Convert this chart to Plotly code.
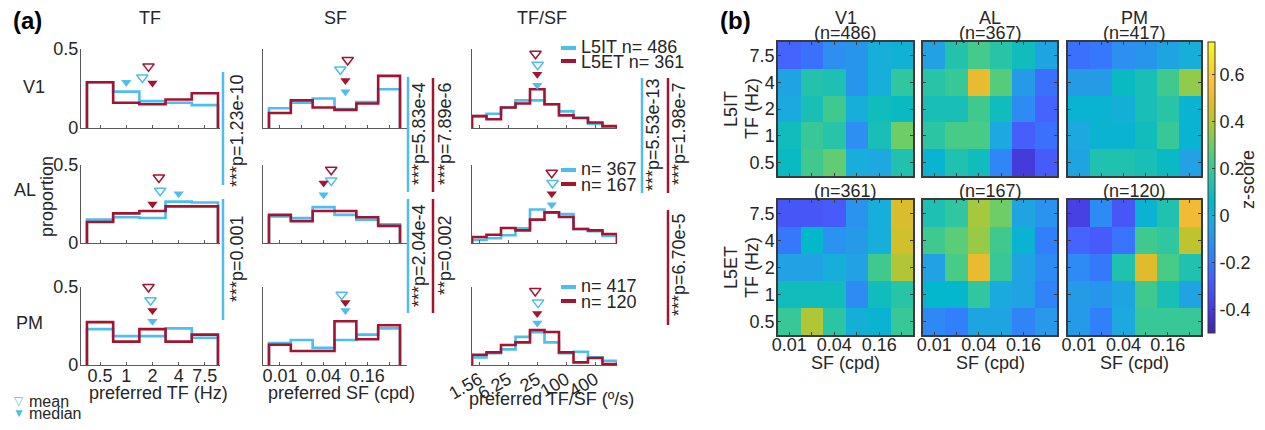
import numpy as np
import plotly.graph_objects as go

# page is shown with the browser's default 8px body margin: size the figure to fit the window
W, H = 1265, 430
OFF = 8
FW, FH = W - 2 * OFF, H - 2 * OFF
FONT = 'Liberation Sans, Arial, Helvetica, sans-serif'
BLUE = '#4DBEEE'
RED = '#A2142F'
AX = '#5a5a5a'
TXT = '#262626'
FS = 18

# ---------------- categories / ticks ----------------
areas = ['V1', 'AL', 'PM']
tf_bins = [0.5, 1, 2, 4, 8]
tf_ticklabels = ['0.5', '1', '2', '4', '7.5']
sf_bins = [0.01, 0.02, 0.04, 0.08, 0.16, 0.32]
sf_tickvals = [0.01, 0.04, 0.16]
sf_ticklabels = ['0.01', '0.04', '0.16']
sp_bins = [1.5625, 3.125, 6.25, 12.5, 25, 50, 100, 200, 400, 800]
sp_tickvals = [1.5625, 6.25, 25, 100, 400]
sp_ticklabels = ['1.56', '6.25', '25', '100', '400']
it_n = [486, 367, 417]
et_n = [361, 167, 120]

# ---------------- histogram proportions ----------------
v1_tf_it = [0.29, 0.23, 0.17, 0.16, 0.145]
v1_tf_et = [0.29, 0.16, 0.15, 0.18, 0.22]
v1_sf_it = [0.125, 0.16, 0.187, 0.12, 0.165, 0.245]
v1_sf_et = [0.095, 0.175, 0.13, 0.115, 0.155, 0.33]
v1_sp_it = [0.075, 0.09, 0.13, 0.175, 0.175, 0.15, 0.105, 0.065, 0.025, 0.01]
v1_sp_et = [0.075, 0.055, 0.13, 0.155, 0.245, 0.15, 0.08, 0.063, 0.035, 0.012]

al_tf_it = [0.15, 0.165, 0.16, 0.265, 0.26]
al_tf_et = [0.135, 0.19, 0.205, 0.235, 0.235]
al_sf_it = [0.17, 0.16, 0.23, 0.18, 0.15, 0.12]
al_sf_et = [0.18, 0.14, 0.205, 0.205, 0.165, 0.11]
al_sp_it = [0.02, 0.03, 0.05, 0.095, 0.215, 0.195, 0.185, 0.09, 0.075, 0.045]
al_sp_et = [0.038, 0.053, 0.096, 0.081, 0.15, 0.196, 0.167, 0.09, 0.081, 0.058]

pm_tf_it = [0.23, 0.185, 0.185, 0.235, 0.175]
pm_tf_et = [0.275, 0.15, 0.23, 0.15, 0.195]
pm_sf_it = [0.14, 0.16, 0.11, 0.16, 0.195, 0.235]
pm_sf_et = [0.13, 0.09, 0.09, 0.28, 0.165, 0.255]
pm_sp_it = [0.049, 0.075, 0.1, 0.18, 0.21, 0.145, 0.075, 0.085, 0.049, 0.027]
pm_sp_et = [0.066, 0.081, 0.128, 0.145, 0.224, 0.212, 0.081, 0.017, 0.045, 0.006]

# ---------------- mean / median  ([TF, SF, TF/SF]) ----------------
v1_it_mean = [1.53, 0.068, 25.5]
v1_it_median = [1, 0.08, 25]
v1_et_mean = [1.8, 0.086, 23]
v1_et_median = [2, 0.08, 25]
al_it_mean = [2.45, 0.051, 52]
al_it_median = [4, 0.04, 50]
al_et_mean = [2.37, 0.051, 50]
al_et_median = [2, 0.04, 50]
pm_it_mean = [1.9, 0.071, 26]
pm_it_median = [2, 0.08, 25]
pm_et_mean = [1.8, 0.083, 22.7]
pm_et_median = [2, 0.08, 25]

# marker heights (proportion) per column: [it_mean, it_median, et_mean, et_median]
v1_levels = [[0.32, 0.29, 0.39, 0.285], [0.37, 0.23, 0.43, 0.30], [0.40, 0.27, 0.47, 0.34]]
al_levels = [[0.335, 0.316, 0.42, 0.25], [0.40, 0.31, 0.47, 0.385], [0.385, 0.245, 0.45, 0.316]]
pm_levels = [[0.415, 0.28, 0.50, 0.35], [0.45, 0.35, 0.52, 0.40], [0.40, 0.27, 0.475, 0.33]]

# p-values
pvals_tf_it = ['***p=1.23e-10', '***p=0.001']
pvals_sf_it = ['***p=5.83e-4', '***p=2.04e-4']
pvals_sf_et = ['***p=7.89e-6', '**p=0.002']
pvals_sp_it = ['***p=5.53e-13']
pvals_sp_et = ['***p=1.98e-7', '***p=6.70e-5']

# ---------------- heatmaps (rows top->bottom: TF 7.5..0.5; cols SF 0.01..0.32) ----------------
hm_sf_labels = ['0.01', '', '0.04', '', '0.16', '']
hm_tf_labels = ['7.5', '4', '2', '1', '0.5']
v1_it_z = [[-0.25, -0.22, -0.12, -0.10, 0.00, 0.02],
           [-0.05, 0.15, 0.13, -0.10, 0.00, 0.18],
           [-0.02, 0.12, 0.22, 0.00, 0.10, 0.08],
           [0.10, 0.20, 0.16, -0.12, 0.12, 0.30],
           [0.08, 0.22, 0.28, 0.00, -0.03, 0.14]]
al_it_z = [[-0.06, 0.15, 0.23, 0.16, 0.10, -0.04],
           [0.16, 0.20, 0.50, 0.26, -0.08, -0.22],
           [0.12, 0.12, 0.22, 0.10, -0.13, -0.25],
           [0.17, 0.24, 0.24, -0.03, -0.27, -0.22],
           [0.03, 0.14, 0.10, -0.15, -0.40, -0.28]]
pm_it_z = [[-0.22, -0.20, -0.12, -0.10, -0.04, 0.00],
           [-0.08, -0.08, 0.08, 0.12, 0.22, 0.35],
           [0.03, 0.03, 0.01, 0.12, 0.16, 0.03],
           [-0.03, 0.03, 0.03, 0.10, 0.20, 0.03],
           [-0.04, 0.14, 0.14, 0.12, 0.08, -0.06]]
v1_et_z = [[-0.30, -0.30, -0.28, -0.11, 0.00, 0.47],
           [-0.20, 0.06, -0.11, -0.08, 0.00, 0.45],
           [-0.06, -0.06, 0.00, -0.06, 0.22, 0.40],
           [0.10, 0.10, 0.10, -0.13, 0.10, 0.16],
           [0.20, 0.40, 0.17, 0.01, 0.03, 0.20]]
al_et_z = [[0.13, 0.18, 0.38, 0.30, -0.04, -0.11],
           [0.22, 0.27, 0.36, 0.22, 0.03, -0.18],
           [-0.06, 0.24, 0.50, 0.20, -0.05, -0.13],
           [0.05, 0.05, 0.18, -0.02, -0.05, -0.16],
           [-0.14, -0.18, -0.04, -0.04, -0.16, -0.09]]
pm_et_z = [[-0.38, -0.13, -0.30, 0.03, 0.14, 0.52],
           [-0.25, -0.28, -0.21, 0.22, 0.18, 0.42],
           [-0.13, -0.20, 0.14, 0.48, 0.24, 0.14],
           [-0.08, -0.10, -0.04, 0.22, 0.12, -0.05],
           [-0.08, -0.18, -0.03, 0.20, 0.20, 0.20]]
cbar_vals = [-0.4, -0.2, 0, 0.2, 0.4, 0.6]

parula = [[0.2422, 0.1504, 0.6603], [0.2647, 0.1978, 0.7952], [0.2783, 0.2559, 0.8991],
          [0.2810, 0.3228, 0.9579], [0.2699, 0.3892, 0.9906], [0.1963, 0.4847, 0.9892],
          [0.1764, 0.5499, 0.9520], [0.1380, 0.6276, 0.8973], [0.0952, 0.6798, 0.8598],
          [0.0036, 0.7203, 0.7917], [0.0964, 0.7500, 0.7120], [0.1938, 0.7758, 0.6251],
          [0.2906, 0.7973, 0.5188], [0.4456, 0.8024, 0.3909], [0.6174, 0.7876, 0.2612],
          [0.7738, 0.7598, 0.1646], [0.9035, 0.7330, 0.1774], [0.9956, 0.7434, 0.2371],
          [0.9892, 0.8136, 0.1885], [0.9610, 0.8890, 0.1537], [0.9769, 0.9839, 0.0805]]
n = len(parula)
colorscale = [[i / (n - 1), 'rgb(%d,%d,%d)' % tuple(int(round(c * 255)) for c in p)]
              for i, p in enumerate(parula)]

# ---------------- helpers (screen px -> paper) ----------------
def px(x):
    return (x - OFF) / FW

def py(y):
    return 1 - (y - OFF) / FH

def step_xy(centers, heights):
    c = np.array(centers, float)
    edges = np.concatenate([[c[0] / np.sqrt(2)], np.sqrt(c[:-1] * c[1:]), [c[-1] * np.sqrt(2)]])
    xs, ys = [edges[0]], [0]
    for i, h in enumerate(heights):
        xs += [edges[i], edges[i + 1]]
        ys += [h, h]
    xs.append(edges[-1])
    ys.append(0)
    return xs, ys

fig = go.Figure()
layout = dict(width=FW, height=FH, margin=dict(l=0, r=0, t=0, b=0, autoexpand=False),
              paper_bgcolor='white', plot_bgcolor='white', showlegend=False,
              font=dict(family=FONT, size=FS, color=TXT))

hist_x_dom = [(81, 220), (263, 407), (472, 617)]
hist_y_dom = [(49, 128), (165, 243), (287, 365)]
hist_x_rng = [[-0.520, 1.077], [-2.233, -0.248], [0.043, 3.054]]

hist_data = {
    'V1': [(v1_tf_it, v1_tf_et), (v1_sf_it, v1_sf_et), (v1_sp_it, v1_sp_et)],
    'AL': [(al_tf_it, al_tf_et), (al_sf_it, al_sf_et), (al_sp_it, al_sp_et)],
    'PM': [(pm_tf_it, pm_tf_et), (pm_sf_it, pm_sf_et), (pm_sp_it, pm_sp_et)],
}
marks = {
    'V1': (v1_it_mean, v1_it_median, v1_et_mean, v1_et_median, v1_levels),
    'AL': (al_it_mean, al_it_median, al_et_mean, al_et_median, al_levels),
    'PM': (pm_it_mean, pm_it_median, pm_et_mean, pm_et_median, pm_levels),
}
col_bins = [tf_bins, sf_bins, sp_bins]

for r, area in enumerate(areas):
    for c in range(3):
        k = r * 3 + c + 1
        xa = 'x' if k == 1 else 'x%d' % k
        ya = 'y' if k == 1 else 'y%d' % k
        it_h, et_h = hist_data[area][c]
        for h, col in ((it_h, BLUE), (et_h, RED)):
            xs, ys = step_xy(col_bins[c], h)
            fig.add_trace(go.Scatter(x=xs, y=ys, mode='lines', xaxis=xa, yaxis=ya,
                                     line=dict(color=col, width=2.6), hoverinfo='skip'))
        imean, imed, emean, emed, lev = marks[area]
        L = lev[c]
        for val, lv, col, sym, sz in ((imean[c], L[0], BLUE, 'triangle-down-open', 10),
                                      (emean[c], L[2], RED, 'triangle-down-open', 10),
                                      (imed[c], L[1], BLUE, 'triangle-down', 9),
                                      (emed[c], L[3], RED, 'triangle-down', 9)):
            fig.add_trace(go.Scatter(x=[val], y=[lv], mode='markers', xaxis=xa, yaxis=ya,
                                     cliponaxis=False,
                                     marker=dict(symbol=sym, size=sz, color=col,
                                                 line=dict(color=col, width=1.5 if 'open' in sym else 0))))
        bottom = (r == 2)
        if c == 0:
            tv, tt = tf_bins, tf_ticklabels
        elif c == 1:
            tv = sf_bins
            tt = [sf_ticklabels[sf_tickvals.index(v)] if v in sf_tickvals else '' for v in sf_bins]
        else:
            tv, tt = sp_tickvals, sp_ticklabels
        xkey = 'xaxis' if k == 1 else 'xaxis%d' % k
        ykey = 'yaxis' if k == 1 else 'yaxis%d' % k
        layout[xkey] = dict(domain=[px(hist_x_dom[c][0]), px(hist_x_dom[c][1])], anchor=ya,
                            type='log', range=hist_x_rng[c], showgrid=False, zeroline=False,
                            showline=True, linecolor=AX, linewidth=1.2,
                            ticks='inside', ticklen=3, tickcolor=AX,
                            tickvals=tv, ticktext=tt, showticklabels=bottom,
                            tickangle=(-30 if c == 2 else 0),
                            ticklabelstandoff=(-4 if c == 2 else -6),
                            tickfont=dict(size=FS, color=TXT))
        layout[ykey] = dict(domain=[py(hist_y_dom[r][1]), py(hist_y_dom[r][0])], anchor=xa,
                            range=[0, 0.5], showgrid=False, zeroline=False,
                            showline=True, linecolor=AX, linewidth=1.2,
                            ticks='inside', ticklen=4, tickcolor=AX,
                            tickvals=[0, 0.5], ticktext=['0', '0.5'], ticklabelstandoff=-2,
                            showticklabels=(c == 0), tickfont=dict(size=FS, color=TXT))

# ---------------- heatmaps ----------------
hm_x_dom = [(778, 913), (923, 1057), (1068, 1201)]
hm_y_dom = [(42, 176), (200, 335)]
hm_z = [[v1_it_z, al_it_z, pm_it_z], [v1_et_z, al_et_z, pm_et_z]]
for r in range(2):
    for c in range(3):
        k = 10 + r * 3 + c
        xa, ya = 'x%d' % k, 'y%d' % k
        fig.add_trace(go.Heatmap(z=hm_z[r][c], x=list(range(6)), y=list(range(5)),
                                 xaxis=xa, yaxis=ya, coloraxis='coloraxis', hoverinfo='skip'))
        layout['xaxis%d' % k] = dict(domain=[px(hm_x_dom[c][0]), px(hm_x_dom[c][1])], anchor=ya,
                                     range=[-0.5, 5.5], showgrid=False, zeroline=False,
                                     showline=True, linecolor='#3a3a3a', linewidth=1.5, mirror='ticks',
                                     ticks='inside', ticklen=3, tickcolor='#3a3a3a',
                                     tickvals=list(range(6)), ticktext=hm_sf_labels, ticklabelstandoff=-7,
                                     showticklabels=(r == 1), tickfont=dict(size=FS, color=TXT))
        layout['yaxis%d' % k] = dict(domain=[py(hm_y_dom[r][1]), py(hm_y_dom[r][0])], anchor=xa,
                                     range=[4.5, -0.5], showgrid=False, zeroline=False,
                                     showline=True, linecolor='#3a3a3a', linewidth=1.5, mirror='ticks',
                                     ticks='inside', ticklen=3, tickcolor='#3a3a3a',
                                     tickvals=list(range(5)), ticktext=hm_tf_labels, ticklabelstandoff=-2,
                                     showticklabels=(c == 0), tickfont=dict(size=FS, color=TXT))

layout['coloraxis'] = dict(colorscale=colorscale, cmin=-0.5, cmax=0.74,
                           colorbar=dict(x=px(1208), xanchor='left', y=py((42 + 333) / 2),
                                         yanchor='middle', len=(333 - 42) / FH, lenmode='fraction',
                                         xpad=0, ypad=0,
                                         thickness=7, thicknessmode='pixels',
                                         outlinewidth=1, outlinecolor='#3a3a3a',
                                         tickvals=cbar_vals, ticktext=['-0.4', '-0.2', '0', '0.2', '0.4', '0.6'],
                                         ticks='inside', ticklen=3, tickcolor='#3a3a3a',
                                         tickfont=dict(size=FS, color=TXT)))

# ---------------- annotations ----------------
ann = []

def A(x, y, text, size=FS, color=TXT, angle=0, xanchor='center', bold=False):
    ann.append(dict(x=px(x), y=py(y), xref='paper', yref='paper', text=('<b>%s</b>' % text if bold else text),
                    showarrow=False, textangle=angle, xanchor=xanchor, yanchor='middle',
                    font=dict(size=size, color=color, family=FONT)))

A(27, 20, '(a)', size=24, color='black', bold=True)
A(735, 20, '(b)', size=24, color='black', bold=True)
A(150, 18, 'TF')
A(335, 18, 'SF')
A(542, 18, 'TF/SF')
A(34, 87, 'V1')
A(25, 190, 'AL')
A(29, 323, 'PM')
A(47, 197, 'proportion', angle=-90)
A(158, 393, 'preferred TF (Hz)')
A(342, 393, 'preferred SF (cpd)')
A(551, 399, 'preferred TF/SF (º/s)')
A(19, 401, '▽', size=12, color=BLUE)
A(27, 401, 'mean', size=16, xanchor='left')
A(19, 413, '▼', size=12, color=BLUE)
A(27, 413, 'median', size=16, xanchor='left')
A(1248, 180, 'z-score', angle=-90)

shapes = []

def seg(x0, y0, x1, y1, color, w=4):
    shapes.append(dict(type='line', xref='paper', yref='paper', x0=px(x0), y0=py(y0), x1=px(x1),
                       y1=py(y1), line=dict(color=color, width=w)))

# legends in TF/SF column
leg_y = [(47, 62), (169, 185), (286, 302)]
for r in range(3):
    yb, yr = leg_y[r]
    seg(561, yb + 1, 576, yb + 1, BLUE)
    seg(561, yr - 1, 576, yr - 1, RED)
    pre_b = 'L5IT ' if r == 0 else ''
    pre_r = 'L5ET ' if r == 0 else ''
    A(579, yb, '%sn= %d' % (pre_b, it_n[r]), xanchor='left')
    A(579, yr, '%sn= %d' % (pre_r, et_n[r]), xanchor='left')

# p-value bars
seg(223, 72, 223, 185, BLUE, 2.5)
A(237, 131, pvals_tf_it[0], angle=-90)
seg(223, 199, 223, 320, BLUE, 2.5)
A(237, 259, pvals_tf_it[1], angle=-90)
seg(408, 77, 408, 192, BLUE, 2.5)
A(419, 133, pvals_sf_it[0], angle=-90)
seg(433, 78, 433, 192, RED, 2.5)
A(445, 134, pvals_sf_et[0], angle=-90)
seg(408, 199, 408, 313, BLUE, 2.5)
A(419, 255, pvals_sf_it[1], angle=-90)
seg(433, 199, 433, 313, RED, 2.5)
A(445, 255, pvals_sf_et[1], angle=-90)
seg(642, 78, 642, 193, BLUE, 2.5)
A(653, 135, pvals_sp_it[0], angle=-90)
seg(668, 78, 668, 193, RED, 2.5)
A(679, 134, pvals_sp_et[0], angle=-90)
seg(668, 210, 668, 325, RED, 2.5)
A(679, 265, pvals_sp_et[1], angle=-90)

# heatmap titles
hm_cx = [(a + b) / 2 for a, b in hm_x_dom]
for c in range(3):
    A(hm_cx[c], 18, areas[c])
    A(hm_cx[c], 33, '(n=%d)' % it_n[c])
    A(hm_cx[c], 191, '(n=%d)' % et_n[c])
    A(hm_cx[c], 363, 'SF (cpd)')
A(731, 109, 'L5IT', angle=-90)
A(752, 109, 'TF (Hz)', angle=-90)
A(731, 268, 'L5ET', angle=-90)
A(752, 268, 'TF (Hz)', angle=-90)

layout['annotations'] = ann
layout['shapes'] = shapes
fig.update_layout(**layout)
fig.write_html('out.html')
